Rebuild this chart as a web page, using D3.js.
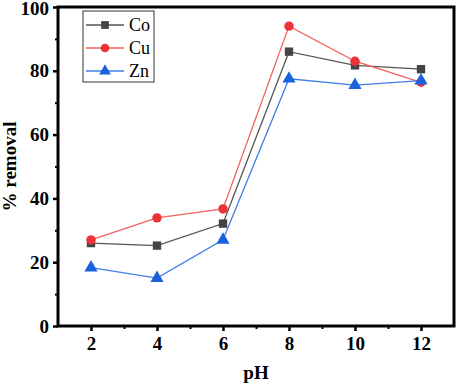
<!DOCTYPE html>
<html>
<head>
<meta charset="utf-8">
<script src="https://cdn.jsdelivr.net/npm/d3@7"></script>
<style>
body { margin: 0; background: #fff; }
text { font-family: "Liberation Serif", "Times New Roman", serif; }
</style>
</head>
<body>
<script>
var width = 457
var height = 384

var pH = [2, 4, 6, 8, 10, 12]
var co = [26.0, 25.2, 32.1, 86.0, 81.7, 80.5]
var cu = [27.0, 33.9, 36.7, 94.0, 83.0, 76.4]
var zn = [18.3, 15.0, 27.0, 77.5, 75.5, 76.9]
var seriesNames = ["Co", "Cu", "Zn"]
var xTicks = [2, 4, 6, 8, 10, 12]
var yTicks = [0, 20, 40, 60, 80, 100]

var series = [
    {name: "Co", values: co, line: "#555555", fill: "#444444", shape: d3.symbolSquare},
    {name: "Cu", values: cu, line: "#f26060", fill: "#ee3338", shape: d3.symbolCircle},
    {name: "Zn", values: zn, line: "#3d7fe6", fill: "#1a62dc", shape: d3.symbolTriangle}
]

// plot box (window.top is reserved, so use other names)
var pLeft = 58, pRight = 454, pTop = 7, pBottom = 326

var svg = d3.select("body")
    .append("svg")
    .attr("width", width)
    .attr("height", height)

var x_scale = d3.scaleLinear()
    .domain([1, 13])
    .range([pLeft, pRight])

var y_scale = d3.scaleLinear()
    .domain([0, 100])
    .range([pBottom, pTop])

// minor ticks
var x_minor = svg.append("g")
    .attr("transform", "translate(0," + pBottom + ")")
    .call(d3.axisBottom(x_scale).tickValues([3, 5, 7, 9, 11]).tickSize(3).tickFormat(""))
x_minor.select(".domain").remove()
x_minor.selectAll("line").attr("stroke-width", 2)

var y_minor = svg.append("g")
    .attr("transform", "translate(" + pLeft + ",0)")
    .call(d3.axisLeft(y_scale).tickValues([10, 30, 50, 70, 90]).tickSize(3).tickFormat(""))
y_minor.select(".domain").remove()
y_minor.selectAll("line").attr("stroke-width", 2)

// major axes
var x_axis = svg.append("g")
    .attr("transform", "translate(0," + pBottom + ")")
    .call(d3.axisBottom(x_scale).tickValues(xTicks).tickSize(5).tickSizeOuter(0).tickPadding(6))
x_axis.select(".domain").remove()
x_axis.selectAll("line").attr("stroke-width", 2.5)
x_axis.selectAll("text")
    .style("font-family", "Liberation Serif")
    .style("font-size", "19px")
    .style("font-weight", "bold")
    .attr("fill", "#000")

var y_axis = svg.append("g")
    .attr("transform", "translate(" + pLeft + ",0)")
    .call(d3.axisLeft(y_scale).tickValues(yTicks).tickSize(5).tickSizeOuter(0).tickPadding(4))
y_axis.select(".domain").remove()
y_axis.selectAll("line").attr("stroke-width", 2.5)
y_axis.selectAll("text")
    .style("font-family", "Liberation Serif")
    .style("font-size", "19px")
    .style("font-weight", "bold")
    .attr("fill", "#000")
// keep the top label inside the window
y_axis.selectAll("text").filter((d) => d === 100).attr("dy", "0.42em")

// frame
svg.append("rect")
    .attr("x", pLeft)
    .attr("y", pTop)
    .attr("width", pRight - pLeft)
    .attr("height", pBottom - pTop)
    .attr("fill", "none")
    .attr("stroke", "#000")
    .attr("stroke-width", 3)

// lines + markers
var line = d3.line()
    .x((d, i) => x_scale(pH[i]))
    .y((d) => y_scale(d))

series.forEach(function (s) {
    svg.append("path")
        .datum(s.values)
        .attr("d", line)
        .attr("fill", "none")
        .attr("stroke", s.line)
        .attr("stroke-width", 1.3)
})

series.forEach(function (s) {
    svg.selectAll(null)
        .data(s.values)
        .enter()
        .append("path")
        .attr("transform", (d, i) => "translate(" + x_scale(pH[i]) + "," + y_scale(d) + ")")
        .attr("d", d3.symbol().type(s.shape).size(s.shape === d3.symbolTriangle ? 75 : 70))
        .attr("fill", s.fill)
})

// legend
var legend = svg.append("g")
legend.append("rect")
    .attr("x", 83)
    .attr("y", 11)
    .attr("width", 71)
    .attr("height", 71)
    .attr("fill", "#fff")
    .attr("stroke", "#333")
    .attr("stroke-width", 1)

series.forEach(function (s, i) {
    var ly = 25 + i * 23
    legend.append("line")
        .attr("x1", 86).attr("x2", 124)
        .attr("y1", ly).attr("y2", ly)
        .attr("stroke", s.line)
        .attr("stroke-width", 1.3)
    legend.append("path")
        .attr("transform", "translate(105," + ly + ")")
        .attr("d", d3.symbol().type(s.shape).size(60))
        .attr("fill", s.fill)
    legend.append("text")
        .attr("x", 129)
        .attr("y", ly + 6)
        .style("font-size", "18px")
        .text(seriesNames[i])
})

// axis titles
svg.append("text")
    .attr("x", x_scale(7))
    .attr("y", 379)
    .attr("text-anchor", "middle")
    .style("font-size", "19px")
    .style("font-weight", "bold")
    .text("pH")

svg.append("text")
    .attr("transform", "translate(16," + y_scale(50) + ") rotate(-90)")
    .attr("text-anchor", "middle")
    .style("font-size", "19px")
    .style("font-weight", "bold")
    .text("% removal")
</script>
</body>
</html>
